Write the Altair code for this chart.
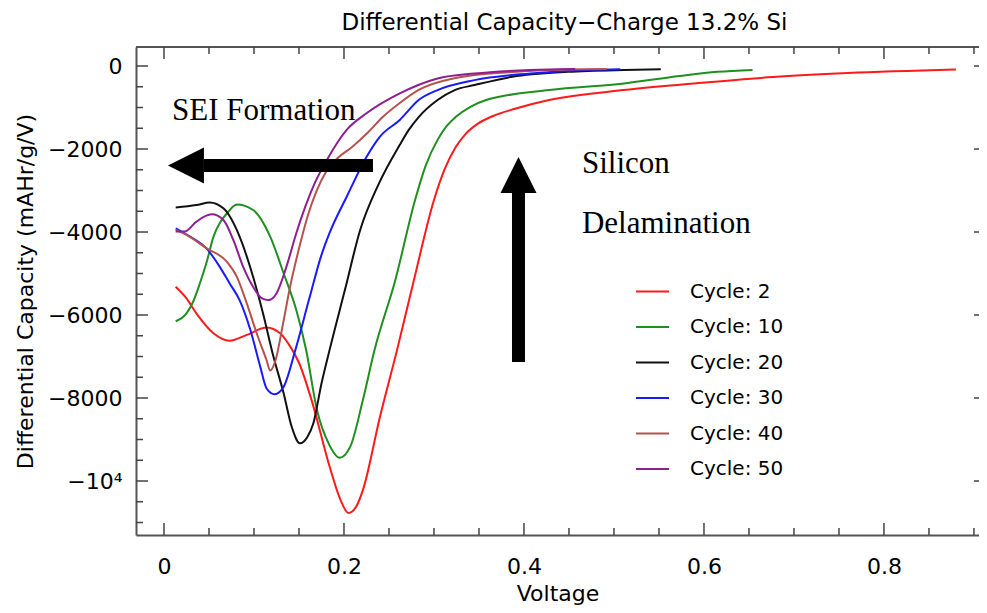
import altair as alt
import pandas as pd

# ---------------- data ----------------
cycles = ["Cycle: 2", "Cycle: 10", "Cycle: 20", "Cycle: 30", "Cycle: 40", "Cycle: 50"]
colors = ["#ff1a1a", "#1f8f1f", "#111111", "#1a1aff", "#b5524e", "#8e1f91"]

c2_v = [0.013, 0.025, 0.036, 0.055, 0.073, 0.092, 0.114, 0.129, 0.140, 0.150, 0.164, 0.184, 0.196,
        0.205, 0.214, 0.221, 0.240, 0.259, 0.279, 0.300, 0.312, 0.324, 0.335, 0.348, 0.365, 0.390,
        0.428, 0.511, 0.594, 0.677, 0.760, 0.880]
c2_q = [-5320, -5600, -5960, -6440, -6620, -6480, -6300, -6440, -6750, -7150, -8050, -9650, -10450,
        -10770, -10600, -10220, -8450, -6840, -5040, -3230, -2480, -1960, -1640, -1400, -1210, -1030,
        -820, -580, -410, -265, -170, -85]

c10_v = [0.013, 0.025, 0.033, 0.040, 0.048, 0.055, 0.063, 0.070, 0.081, 0.099, 0.118, 0.133, 0.147,
         0.158, 0.170, 0.183, 0.195, 0.207, 0.221, 0.234, 0.257, 0.279, 0.291, 0.304, 0.314, 0.324,
         0.340, 0.358, 0.428, 0.511, 0.573, 0.615, 0.654]
c10_q = [-6150, -5960, -5650, -5230, -4680, -4110, -3750, -3550, -3340, -3470, -4110, -5000, -5880,
         -6850, -8290, -9100, -9440, -9170, -8050, -6840, -5160, -3230, -2390, -1780, -1450, -1230,
         -990, -820, -580, -420, -240, -140, -95]

c20_v = [0.013, 0.036, 0.051, 0.066, 0.084, 0.099, 0.110, 0.121, 0.133, 0.142, 0.151, 0.159, 0.166,
         0.175, 0.184, 0.201, 0.218, 0.238, 0.262, 0.272, 0.283, 0.304, 0.323, 0.345, 0.387, 0.449,
         0.511, 0.552]
c20_q = [-3410, -3350, -3290, -3430, -4110, -5080, -5960, -6950, -7890, -8700, -9090, -8950, -8610,
         -7650, -6840, -5400, -3950, -2870, -1900, -1540, -1230, -820, -580, -460, -260, -140,
         -95, -80]

c30_v = [0.013, 0.029, 0.047, 0.062, 0.073, 0.084, 0.096, 0.107, 0.114, 0.123, 0.133, 0.146, 0.161,
         0.175, 0.184, 0.203, 0.225, 0.240, 0.262, 0.283, 0.304, 0.345, 0.407, 0.470, 0.507]
c30_q = [-3910, -4110, -4390, -4840, -5240, -5640, -6360, -7250, -7770, -7910, -7730, -6840, -5640,
         -4550, -4020, -3150, -2190, -1700, -1300, -820, -580, -340, -180, -95, -80]

c40_v = [0.013, 0.025, 0.047, 0.070, 0.081, 0.092, 0.103, 0.114, 0.118, 0.124, 0.132, 0.140, 0.151,
         0.160, 0.169, 0.180, 0.193, 0.209, 0.226, 0.243, 0.262, 0.283, 0.324, 0.387, 0.449, 0.492]
c40_q = [-3950, -4070, -4390, -4720, -5080, -5720, -6440, -7090, -7340, -7085, -6240, -5330, -4315,
         -3590, -3036, -2555, -2217, -1952, -1615, -1229, -892, -578, -289, -145, -84, -72]

c50_v = [0.013, 0.023, 0.036, 0.053, 0.066, 0.077, 0.088, 0.099, 0.109, 0.116, 0.125, 0.136, 0.147,
         0.157, 0.168, 0.181, 0.203, 0.225, 0.262, 0.304, 0.345, 0.407, 0.457]
c50_q = [-3990, -3990, -3750, -3575, -3710, -4190, -4840, -5320, -5600, -5640, -5480, -4840, -4030,
         -3390, -2800, -2265, -1540, -1140, -660, -300, -180, -95, -72]

x_major = [0, 0.2, 0.4, 0.6, 0.8]
x_minor = [0.05, 0.1, 0.15, 0.25, 0.3, 0.35, 0.45, 0.5, 0.55, 0.65, 0.7, 0.75, 0.85, 0.9]
y_major = [0, -2000, -4000, -6000, -8000, -10000]
y_minor = [-500, -1000, -1500, -2500, -3000, -3500, -4500, -5000, -5500, -6500, -7000, -7500,
           -8500, -9000, -9500, -10500, -11000]

notes_text = ["SEI Formation", "Silicon", "Delamination"]
notes_v = [0.0089, 0.4644, 0.4644]
notes_q = [-1301, -2578, -4024]

left_arrow_v = [0.0444, 0.2322]
left_arrow_q = [-2398, -2398]
left_head_v = [0.0244]
left_head_q = [-2398]
up_arrow_v = [0.3939, 0.3939]
up_arrow_q = [-7133, -3000]
up_head_v = [0.3939]
up_head_q = [-2626]

x_domain = [-0.0311, 0.9056]
y_domain = [-11301, 458]

# ---------------- build tables ----------------
series = [c2_v, c10_v, c20_v, c30_v, c40_v, c50_v]
seriesq = [c2_q, c10_q, c20_q, c30_q, c40_q, c50_q]
rows = []
for name, vs, qs in zip(cycles, series, seriesq):
    for i, (v, q) in enumerate(zip(vs, qs)):
        rows.append({"series": name, "i": i, "v": v, "q": q})
df = pd.DataFrame(rows)

W, H = 843, 488
FONT = "DejaVu Sans"
FRAME = "#555555"
TICK = "#444444"

xs = alt.Scale(domain=x_domain, nice=False, zero=False)
ys = alt.Scale(domain=y_domain, nice=False, zero=False)

lines = alt.Chart(df).mark_line(strokeWidth=2, interpolate="monotone").encode(
    x=alt.X("v:Q", scale=xs, title="Voltage",
            axis=alt.Axis(values=x_major, ticks=False, grid=False, domainColor=FRAME, domainWidth=2,
                          labelExpr="datum.value == 0 ? '0' : format(datum.value, '.1f')",
                          labelFont=FONT, labelFontSize=22, labelColor="black", labelPadding=21,
                          titleFont=FONT, titleFontSize=22, titleFontWeight="normal",
                          titleColor="black", titlePadding=6)),
    y=alt.Y("q:Q", scale=ys, title="Differential Capacity (mAHr/g/V)",
            axis=alt.Axis(values=y_major, ticks=False, grid=False, domainColor=FRAME, domainWidth=2,
                          labelExpr="datum.value == 0 ? '0' : (datum.value == -10000 ? '\u221210\u2074' : '\u2212' + format(-datum.value, 'd'))",
                          labelFont=FONT, labelFontSize=22, labelColor="black", labelPadding=14,
                          titleFont=FONT, titleFontSize=22, titleFontWeight="normal",
                          titleColor="black", titlePadding=10)),
    color=alt.Color("series:N", scale=alt.Scale(domain=cycles, range=colors),
                    legend=alt.Legend(orient="none", legendX=499, legendY=227, title=None,
                                      symbolType="stroke", symbolSize=1089, symbolStrokeWidth=2,
                                      labelFont=FONT, labelFontSize=20, labelColor="black",
                                      labelOffset=20, rowPadding=7.5, padding=0)),
    order=alt.Order("i:Q"),
)

def xticks(vals, length, top):
    d = pd.DataFrame({"v": vals})
    if top:
        enc = dict(y=alt.value(0), y2=alt.value(length))
    else:
        enc = dict(y=alt.value(H), y2=alt.value(H - length))
    return alt.Chart(d).mark_rule(color=TICK, strokeWidth=1.5).encode(x=alt.X("v:Q"), **enc)

def yticks(vals, x0, x1):
    d = pd.DataFrame({"q": vals})
    return alt.Chart(d).mark_rule(color=TICK, strokeWidth=1.5).encode(
        y=alt.Y("q:Q"), x=alt.value(x0), x2=alt.value(x1))

top_frame = alt.Chart(pd.DataFrame({"a": [0]})).mark_rule(color=FRAME, strokeWidth=2).encode(
    x=alt.value(0), x2=alt.value(W), y=alt.value(0))

notes = alt.Chart(pd.DataFrame({"v": notes_v, "q": notes_q, "t": notes_text})).mark_text(
    font="Liberation Serif", fontSize=31, align="left", baseline="alphabetic", color="black"
).encode(x="v:Q", y="q:Q", text="t:N")

la = alt.Chart(pd.DataFrame({"v": left_arrow_v, "q": left_arrow_q})).mark_line(
    color="black", strokeWidth=13, strokeCap="butt").encode(x="v:Q", y="q:Q")
lh = alt.Chart(pd.DataFrame({"v": left_head_v, "q": left_head_q})).mark_point(
    shape="M-1,0L1,-1L1,1Z", size=1296, filled=True, color="black", opacity=1, strokeWidth=0
).encode(x="v:Q", y="q:Q")
ua = alt.Chart(pd.DataFrame({"v": up_arrow_v, "q": up_arrow_q})).mark_line(
    color="black", strokeWidth=13, strokeCap="butt").encode(x="v:Q", y="q:Q")
uh = alt.Chart(pd.DataFrame({"v": up_head_v, "q": up_head_q})).mark_point(
    shape="M0,-1L-1,1L1,1Z", size=1296, filled=True, color="black", opacity=1, strokeWidth=0
).encode(x="v:Q", y="q:Q")

chart = alt.layer(
    lines,
    top_frame,
    xticks(x_major, 12, False), xticks(x_minor, 7, False),
    xticks(x_major, 12, True), xticks(x_minor, 7, True),
    yticks(y_major, 0, 12), yticks(y_minor, 0, 7),
    yticks(y_major, W - 5, W),
    la, lh, ua, uh, notes,
).properties(
    width=W, height=H,
    title=alt.TitleParams("Differential Capacity\u2212Charge 13.2% Si", font=FONT, fontSize=23,
                          fontWeight="normal", color="black", anchor="middle", dx=7, dy=24,
                          baseline="alphabetic", offset=17),
    padding={"left": 128, "top": 39, "right": 0, "bottom": 70},
    autosize=alt.AutoSizeParams(type="none"),
).configure_view(stroke=None).configure(background="white")

chart.save("out.html", embed_options={"renderer": "svg", "actions": False})
